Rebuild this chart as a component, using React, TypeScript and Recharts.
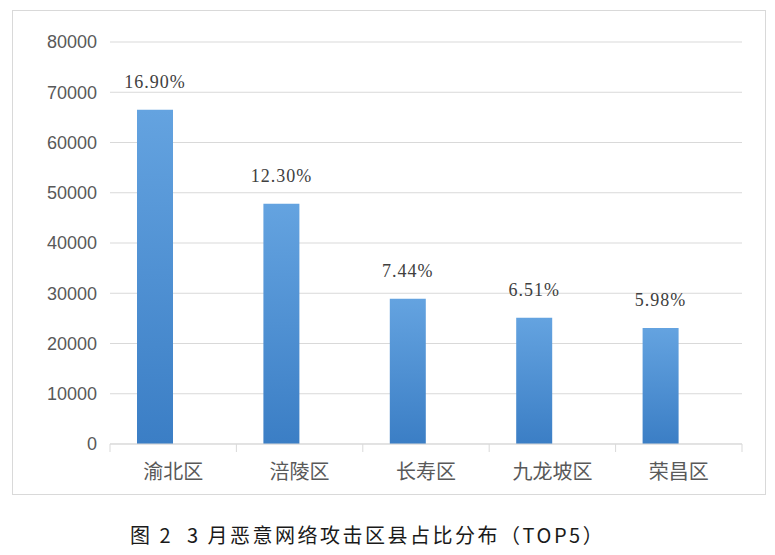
import { BarChart, Bar, XAxis, YAxis, CartesianGrid, LabelList } from 'recharts';

const districts = ['渝北区', '涪陵区', '长寿区', '九龙坡区', '荣昌区'];
const attackCounts = [66500, 47800, 28900, 25100, 23100];
const sharePercents = [16.9, 12.3, 7.44, 6.51, 5.98];
const yTicks = [0, 10000, 20000, 30000, 40000, 50000, 60000, 70000, 80000];

const chartData = districts.map((name, i) => ({
  name,
  count: attackCounts[i],
  share: sharePercents[i],
}));

const PLOT_LEFT = 110;
const PLOT_RIGHT = 742;
const BAND = (PLOT_RIGHT - PLOT_LEFT) / districts.length;
const GRID = '#d9d9d9';

const CategoryTick = (props: any) => {
  const { x, y, payload, index } = props;
  const isLast = index === districts.length - 1;
  return (
    <g>
      <line x1={x - BAND / 2} y1={y} x2={x - BAND / 2} y2={y + 8} stroke={GRID} />
      {isLast && <line x1={x + BAND / 2} y1={y} x2={x + BAND / 2} y2={y + 8} stroke={GRID} />}
      <text
        x={x}
        y={y + 35}
        textAnchor="middle"
        fontSize={20}
        fill="#595959"
        fontFamily="'Noto Sans CJK SC', sans-serif"
      >
        {payload.value}
      </text>
    </g>
  );
};

const App = () => {
  return (
    <div
      style={{
        position: 'absolute',
        left: 0,
        top: 0,
        width: 775,
        height: 555,
        background: '#fff',
        overflow: 'hidden',
      }}
    >
      <div
        style={{
          position: 'absolute',
          left: 12,
          top: 10,
          width: 752,
          height: 483,
          border: `1px solid ${GRID}`,
        }}
      />
      <div style={{ position: 'absolute', left: 0, top: 0 }}>
        <BarChart
          width={775}
          height={500}
          data={chartData}
          margin={{ top: 42, right: 33, bottom: 0, left: 0 }}
          barGap={0}
        >
          <defs>
            <linearGradient id="blueFill" x1="0" y1="0" x2="0" y2="1">
              <stop offset="0%" stopColor="#64a3e0" />
              <stop offset="100%" stopColor="#3b7ec5" />
            </linearGradient>
          </defs>
          <CartesianGrid vertical={false} stroke={GRID} />
          <XAxis
            dataKey="name"
            height={56}
            axisLine={{ stroke: GRID }}
            tickLine={false}
            tickSize={0}
            tickMargin={0}
            tick={<CategoryTick />}
            interval={0}
          />
          <YAxis
            width={110}
            domain={[0, 80000]}
            ticks={yTicks}
            axisLine={false}
            tickLine={false}
            tickSize={0}
            tickMargin={13}
            tick={{ fontSize: 18, fill: '#595959', fontFamily: "'Liberation Sans', sans-serif" }}
          />
          <Bar dataKey="count" barSize={36} fill="url(#blueFill)" isAnimationActive={false}>
            <LabelList
              dataKey="share"
              position="top"
              offset={22}
              formatter={(v: any) => `${Number(v).toFixed(2)}%`}
              style={{
                fontSize: 18,
                fill: '#404040',
                letterSpacing: 1,
                fontFamily: "'Liberation Serif', serif",
              }}
            />
          </Bar>
          <Bar dataKey="share" barSize={36} fill="transparent" isAnimationActive={false} />
        </BarChart>
      </div>
      <div
        style={{
          position: 'absolute',
          left: 130,
          top: 521,
          fontSize: 20,
          color: '#1a1a1a',
          whiteSpace: 'pre',
          letterSpacing: 2.5,
          fontFamily: "'Noto Sans CJK SC', sans-serif",
          lineHeight: '28px',
        }}
      >
        图 2  3 月恶意网络攻击区县占比分布（TOP5）
      </div>
    </div>
  );
};

export default App;
